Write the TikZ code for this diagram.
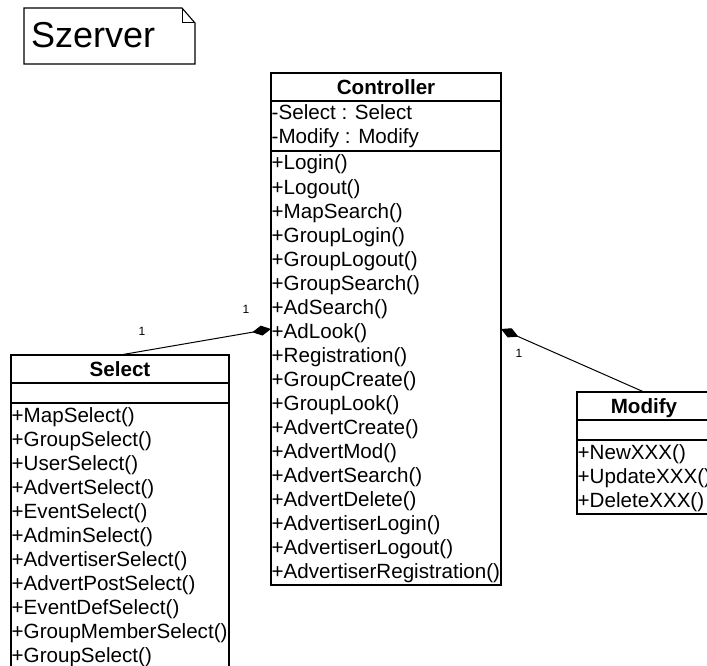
\documentclass[tikz,border=0pt]{standalone}
\usepackage{fontspec}
\setmainfont{Liberation Sans}
\usetikzlibrary{arrows.meta}
\begin{document}
\begin{tikzpicture}[x=1pt,y=-1pt,
  outline/.style={draw,line width=1.1pt,inner sep=0pt,outer sep=0pt,anchor=north west},
  rule/.style={line width=1.1pt},
  member/.style={anchor=base west,inner sep=0pt,font=\fontsize{20.6}{24}\selectfont},
  title/.style={anchor=base,inner sep=0pt,font=\fontsize{20.6}{24}\selectfont\bfseries},
  mult/.style={inner sep=0pt,font=\fontsize{12}{14}\selectfont},
  comp/.style={line width=1pt,-{Diamond[length=19pt,width=10pt]}}]
\useasboundingbox (0,0) rectangle (707,666);
\clip (0,0) rectangle (707,666);

% package note
\draw[line width=1.1pt] (24,8) -- (182,8) -- (195,23) -- (195,64) -- (24,64) -- cycle;
\draw[line width=1pt] (182,8) -- (182,23) -- (195,23);
\node[anchor=base west,inner sep=0pt,font=\fontsize{36}{40}\selectfont] (pkg) at (31,47.5) {Szerver};

% class Controller
\node[outline,minimum width=230pt,minimum height=512pt] (ctrl) at (271,73) {};
\draw[rule] (271,101) -- (501,101);
\draw[rule] (271,151) -- (501,151);
\node[title] (ctrlT) at (386,95) {Controller};
\node[member] (ctrlA1) at (271.5,120) {-Select : Select};
\node[member] (ctrlA2) at (271.5,144) {-Modify : Modify};
\foreach [count=\i from 0] \m in {Login,Logout,MapSearch,GroupLogin,GroupLogout,
    GroupSearch,AdSearch,AdLook,Registration,GroupCreate,GroupLook,AdvertCreate,
    AdvertMod,AdvertSearch,AdvertDelete,AdvertiserLogin,AdvertiserLogout,
    AdvertiserRegistration}
  \node[member] (ctrlM\i) at (271.5,{170+24*\i}) {+\m()};

% class Select
\node[outline,minimum width=218pt,minimum height=314pt] (sel) at (11,355) {};
\draw[rule] (11,383) -- (229,383);
\draw[rule] (11,403) -- (229,403);
\node[title] (selT) at (120,376) {Select};
\foreach [count=\i from 0] \m in {MapSelect,GroupSelect,UserSelect,AdvertSelect,
    EventSelect,AdminSelect,AdvertiserSelect,AdvertPostSelect,EventDefSelect,
    GroupMemberSelect,GroupSelect}
  \node[member] (selM\i) at (11.5,{422+24*\i}) {+\m()};

% class Modify
\node[outline,minimum width=134pt,minimum height=122pt] (mod) at (577,392) {};
\draw[rule] (577,420) -- (711,420);
\draw[rule] (577,440) -- (711,440);
\node[title] (modT) at (644,413) {Modify};
\foreach [count=\i from 0] \m in {NewXXX,UpdateXXX,DeleteXXX}
  \node[member] (modM\i) at (577.5,{459+24*\i}) {+\m()};

% compositions
\draw[comp] (sel.north) -- (ctrl.west);
\draw[comp] (mod.north) -- (ctrl.east);
\node[mult] (selMult) at (142,331) {1};
\node[mult] (ctrlMultL) at (246,309) {1};
\node[mult] (ctrlMultR) at (519,353) {1};
\end{tikzpicture}
\end{document}
